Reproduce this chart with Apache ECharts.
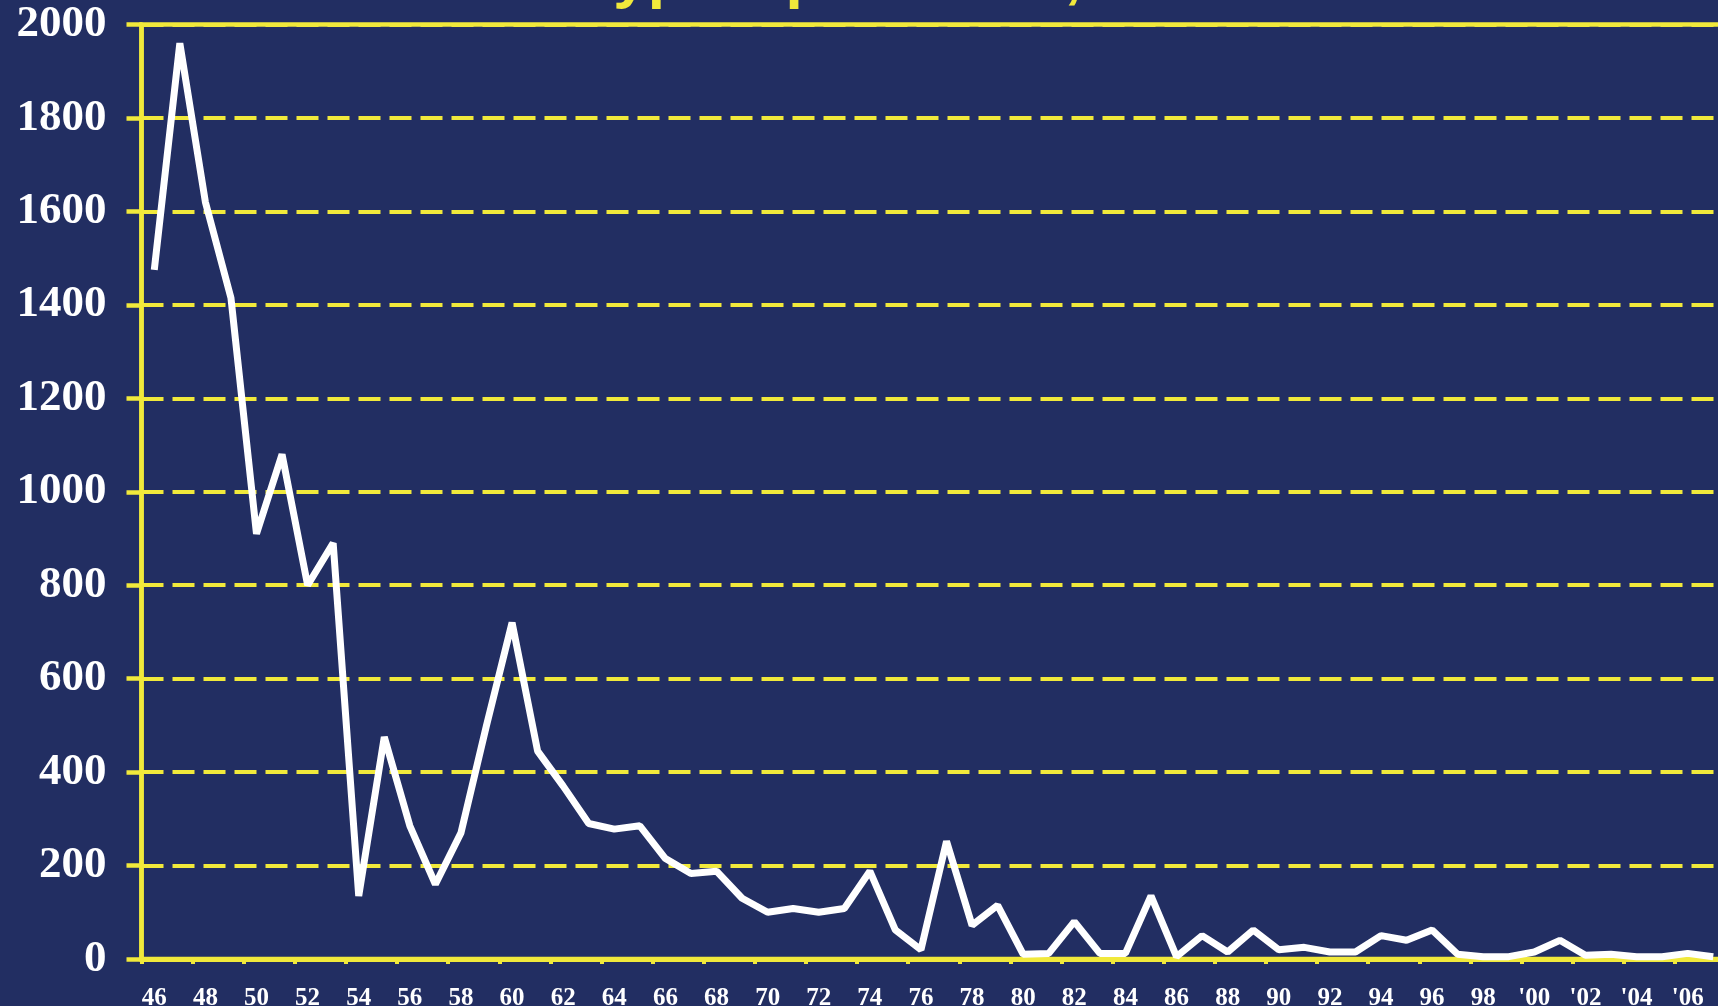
<!DOCTYPE html>
<html>
<head>
<meta charset="utf-8">
<title>Part 121-Type Operations, 1946 to 2007</title>
<script src="https://cdn.jsdelivr.net/npm/echarts@6/dist/echarts.min.js"></script>
<style>
  html, body { margin: 0; padding: 0; background: #222e62; }
  #chart { width: 1718px; height: 1006px; }
</style>
</head>
<body>
<div id="chart"></div>
<script>
// tick labels, one per year 1946 .. 2007
var yearLabels = [
  '46','47','48','49','50','51','52','53','54','55',
  '56','57','58','59','60','61','62','63','64','65',
  '66','67','68','69','70','71','72','73','74','75',
  '76','77','78','79','80','81','82','83','84','85',
  '86','87','88','89','90','91','92','93','94','95',
  '96','97','98','99',"'00","'01","'02","'03","'04","'05",
  "'06","'07"
];

// values
var values = [
  1475, 1960, 1620, 1415, 910, 1080, 800, 890, 135, 475,
  285, 160, 270, 500, 720, 445, 370, 290, 278, 285,
  215, 183, 188, 130, 100, 108, 100, 108, 188, 62,
  20, 252, 72, 115, 10, 12, 80, 12, 12, 135,
  5, 50, 15, 62, 20, 25, 15, 15, 50, 40,
  62, 10, 5, 5, 15, 40, 8, 10, 5, 5,
  12, 5
];

var yMin = 0;
var yMax = 2000;
var yStep = 200;

var yellow = '#f1e93b';

var chart = echarts.init(document.getElementById('chart'));
chart.setOption({
  backgroundColor: '#222e62',
  animation: false,
  title: {
    text: 'Part 121-Type Operations, 1946 to 2007',
    left: 318,
    top: -52,
    padding: 0,
    textStyle: {
      color: yellow,
      fontFamily: 'Liberation Sans',
      fontWeight: 'bold',
      fontSize: 62,
      lineHeight: 62
    }
  },
  grid: {
    left: 141.5,
    right: -8,
    top: 24.5,
    bottom: 47,
    show: true,
    borderColor: yellow,
    borderWidth: 4.5,
    backgroundColor: 'transparent',
    outerBoundsMode: 'none'
  },
  xAxis: {
    type: 'category',
    data: yearLabels,
    boundaryGap: true,
    axisLine: { show: true, lineStyle: { color: yellow, width: 5 } },
    axisTick: { show: true, interval: 1, length: 5, lineStyle: { color: yellow, width: 4 } },
    axisLabel: {
      interval: 1,
      margin: 27,
      color: '#ffffff',
      fontFamily: 'Liberation Serif',
      fontWeight: 'bold',
      fontSize: 25
    },
    splitLine: { show: false }
  },
  yAxis: {
    type: 'value',
    min: yMin,
    max: yMax,
    interval: yStep,
    axisLine: { show: true, lineStyle: { color: yellow, width: 4.5 } },
    axisTick: { show: true, length: 15, lineStyle: { color: yellow, width: 4.5 } },
    axisLabel: {
      margin: 35,
      color: '#ffffff',
      fontFamily: 'Liberation Serif',
      fontWeight: 'bold',
      fontSize: 45,
      formatter: function (v) { return String(v); }
    },
    splitLine: {
      show: true,
      lineStyle: { color: yellow, width: 4, type: [22, 9] }
    }
  },
  series: [
    {
      type: 'line',
      data: values,
      symbol: 'none',
      z: 5,
      lineStyle: { color: '#ffffff', width: 7, join: 'bevel' }
    }
  ]
});
</script>
</body>
</html>
